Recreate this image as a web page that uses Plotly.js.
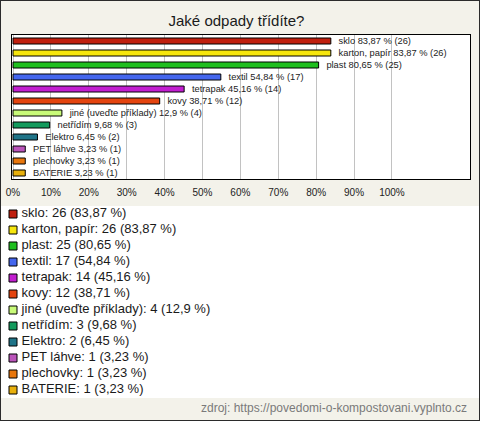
<!DOCTYPE html>
<html>
<head>
<meta charset="utf-8">
<script src="https://cdn.plot.ly/plotly-3.0.1.min.js"></script>
<style>
html,body{margin:0;padding:0;background:#f3f2ea;}
#wrap{width:478px;height:419px;border:1px solid #2b2b2b;background:#f3f2ea;}
#chart{width:478px;height:419px;}
</style>
</head>
<body>
<div id="wrap"><div id="chart"></div></div>
<script>
// ---- data ----
var categories = ["sklo", "karton, papír", "plast", "textil", "tetrapak", "kovy",
  "jiné (uveďte příklady)", "netřídím", "Elektro", "PET láhve", "plechovky", "BATERIE"];
var percents = [83.87, 83.87, 80.65, 54.84, 45.16, 38.71, 12.9, 9.68, 6.45, 3.23, 3.23, 3.23];
var counts = [26, 26, 25, 17, 14, 12, 4, 3, 2, 1, 1, 1];
var colors = ["#c0200f", "#f6e60e", "#1fbf1f", "#4466ee", "#c21ed0", "#e4440f",
  "#c8fa78", "#139a5c", "#1f7488", "#bb55bb", "#e8760c", "#e8b00c"];
var tickVals = [0, 10, 20, 30, 40, 50, 60, 70, 80, 90, 100];
var tickText = ["0%", "10%", "20%", "30%", "40%", "50%", "60%", "70%", "80%", "90%", "100%"];
var chartTitle = "Jaké odpady třídíte?";
var sourceText = "zdroj: https://povedomi-o-kompostovani.vyplnto.cz";

function fmt(v){ return String(v).replace('.', ','); }
var barLabels = categories.map(function(c,i){ return "\u00a0\u00a0\u00a0" + c + " " + fmt(percents[i]) + " % (" + counts[i] + ")"; });
var legendLabels = categories.map(function(c,i){ return "\u2009" + c + ": " + counts[i] + " (" + fmt(percents[i]) + " %)"; });
var zeros = categories.map(function(){ return 0; });

var W = 478, H = 419;
var font = "Liberation Sans, Arial, sans-serif";

var bars = {
  type: "bar", orientation: "h",
  x: percents, y: categories,
  xaxis: "x", yaxis: "y",
  width: 0.5,
  marker: {color: colors, line: {color: "#000", width: 1}},
  text: barLabels, textposition: "outside", cliponaxis: false, constraintext: "none",
  textfont: {family: font, size: 9.3, color: "#222"},
  hoverinfo: "skip"
};
var legend = {
  type: "scatter", mode: "markers+text",
  x: zeros, y: categories,
  xaxis: "x2", yaxis: "y2",
  marker: {symbol: "square", size: 8, color: colors, line: {color: "#000", width: 1}},
  text: legendLabels, textposition: "middle right",
  textfont: {family: font, size: 13, color: "#1a1a1a"},
  cliponaxis: false, hoverinfo: "skip"
};

var layout = {
  width: W, height: H,
  margin: {l: 0, r: 0, t: 0, b: 0},
  paper_bgcolor: "#f3f2ea", plot_bgcolor: "#ffffff",
  showlegend: false,
  title: {text: chartTitle, font: {family: font, size: 15, color: "#1a1a1a"},
          x: 235.5 / W, xanchor: "center", y: 1 - 20 / H, yanchor: "middle"},
  xaxis: {domain: [10.5 / W, 469 / W], range: [-0.4, 120.6],
          tickvals: tickVals, ticktext: tickText, showgrid: true, gridcolor: "#c2c2c2", gridwidth: 1,
          zeroline: false, showline: true, linecolor: "#000", linewidth: 1, mirror: true,
          ticks: "", ticklabelstandoff: 4, tickfont: {family: font, size: 10, color: "#222"}, fixedrange: true},
  yaxis: {domain: [1 - 178 / H, 1 - 34 / H], type: "category",
          categoryorder: "array", categoryarray: categories, range: [11.5, -0.5],
          showticklabels: false, showgrid: false, zeroline: false,
          showline: true, linecolor: "#000", linewidth: 1, mirror: true, ticks: "", fixedrange: true},
  xaxis2: {domain: [0, 1], range: [-12, W - 12], visible: false, fixedrange: true, anchor: "y2"},
  yaxis2: {domain: [1 - 397 / H, 1 - 205 / H], type: "category",
           categoryorder: "array", categoryarray: categories, range: [11.5, -0.5],
           visible: false, fixedrange: true, anchor: "x2"},
  annotations: [{text: sourceText, xref: "paper", yref: "paper",
                 x: 468 / W, xanchor: "right", y: 1 - 407 / H, yanchor: "middle",
                 showarrow: false, font: {family: font, size: 12, color: "#7a7a7a"}}]
};

Plotly.newPlot("chart", [bars, legend], layout, {displayModeBar: false, staticPlot: true});
</script>
</body>
</html>
